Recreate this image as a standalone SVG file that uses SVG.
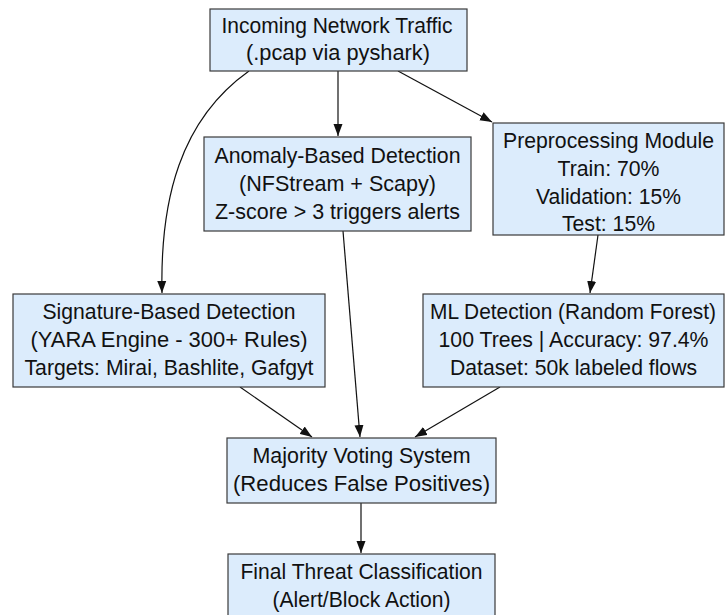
<svg xmlns="http://www.w3.org/2000/svg" width="726" height="615" viewBox="0 0 726 615">
  <style>
    .box { fill: #dcecfc; stroke: #3a3a3a; stroke-width: 1.2; }
    .lbl { font-family: "Liberation Sans", Arial, sans-serif; font-size: 22.5px; fill: #111111; text-anchor: middle; }
    .lbl-tight { font-size: 21.5px; }
    .edge { fill: none; stroke: #111111; stroke-width: 1.2; marker-end: url(#arrow); }
  </style>
  <defs>
    <marker id="arrow" viewBox="0 0 12 10" refX="12" refY="5" markerWidth="12" markerHeight="10" markerUnits="userSpaceOnUse" orient="auto">
      <path d="M0,0.5 L12,5 L0,9.5 Z" fill="#111111"/>
    </marker>
  </defs>
  <rect width="726" height="615" fill="#ffffff"/>

  <g id="connectors">
    <path class="edge" d="M338,71 L338,136"/>
    <path class="edge" d="M398,71 L492,122"/>
    <path class="edge" d="M249,71 C180,120 160,200 162,293"/>
    <path class="edge" d="M343,231 L360,437"/>
    <path class="edge" d="M598,235 L590,293"/>
    <path class="edge" d="M240,387 L312,437"/>
    <path class="edge" d="M500,387 L415,437"/>
    <path class="edge" d="M361,503 L361,553"/>
  </g>

  <g id="incoming">
    <rect class="box" x="210" y="9" width="257" height="62"/>
    <text class="lbl" x="337" y="33" textLength="231" lengthAdjust="spacingAndGlyphs">Incoming Network Traffic</text>
    <text class="lbl" x="338" y="60" textLength="184" lengthAdjust="spacingAndGlyphs">(.pcap via pyshark)</text>
  </g>

  <g id="anomaly">
    <rect class="box" x="204" y="137" width="267" height="94"/>
    <text class="lbl" x="337.5" y="163" textLength="246" lengthAdjust="spacingAndGlyphs">Anomaly-Based Detection</text>
    <text class="lbl" x="337.5" y="191" textLength="197" lengthAdjust="spacingAndGlyphs">(NFStream + Scapy)</text>
    <text class="lbl" x="337.5" y="219" textLength="245" lengthAdjust="spacingAndGlyphs">Z-score &gt; 3 triggers alerts</text>
  </g>

  <g id="preprocessing">
    <rect class="box" x="493" y="123" width="231" height="112"/>
    <text class="lbl" x="608.5" y="148" textLength="211" lengthAdjust="spacingAndGlyphs">Preprocessing Module</text>
    <text class="lbl" x="608.5" y="176" textLength="102" lengthAdjust="spacingAndGlyphs">Train: 70%</text>
    <text class="lbl" x="608.5" y="204" textLength="145" lengthAdjust="spacingAndGlyphs">Validation: 15%</text>
    <text class="lbl" x="608.5" y="231" textLength="93" lengthAdjust="spacingAndGlyphs">Test: 15%</text>
  </g>

  <g id="signature">
    <rect class="box" x="13" y="294" width="312" height="93"/>
    <text class="lbl" x="169" y="319" textLength="253" lengthAdjust="spacingAndGlyphs">Signature-Based Detection</text>
    <text class="lbl" x="169" y="347" textLength="277" lengthAdjust="spacingAndGlyphs">(YARA Engine - 300+ Rules)</text>
    <text class="lbl" x="169" y="375" textLength="289" lengthAdjust="spacingAndGlyphs">Targets: Mirai, Bashlite, Gafgyt</text>
  </g>

  <g id="ml">
    <rect class="box" x="423" y="294" width="301" height="93"/>
    <text class="lbl lbl-tight" x="573" y="319" textLength="286" lengthAdjust="spacingAndGlyphs">ML Detection (Random Forest)</text>
    <text class="lbl" x="573.5" y="347" textLength="270" lengthAdjust="spacingAndGlyphs">100 Trees | Accuracy: 97.4%</text>
    <text class="lbl" x="573.5" y="375" textLength="247" lengthAdjust="spacingAndGlyphs">Dataset: 50k labeled flows</text>
  </g>

  <g id="voting">
    <rect class="box" x="227" y="438" width="269" height="65"/>
    <text class="lbl" x="361.5" y="463" textLength="218" lengthAdjust="spacingAndGlyphs">Majority Voting System</text>
    <text class="lbl" x="361.5" y="491" textLength="257" lengthAdjust="spacingAndGlyphs">(Reduces False Positives)</text>
  </g>

  <g id="final">
    <rect class="box" x="228" y="554" width="267" height="70"/>
    <text class="lbl" x="361.5" y="579" textLength="242" lengthAdjust="spacingAndGlyphs">Final Threat Classification</text>
    <text class="lbl" x="361.5" y="607" textLength="178" lengthAdjust="spacingAndGlyphs">(Alert/Block Action)</text>
  </g>
</svg>
